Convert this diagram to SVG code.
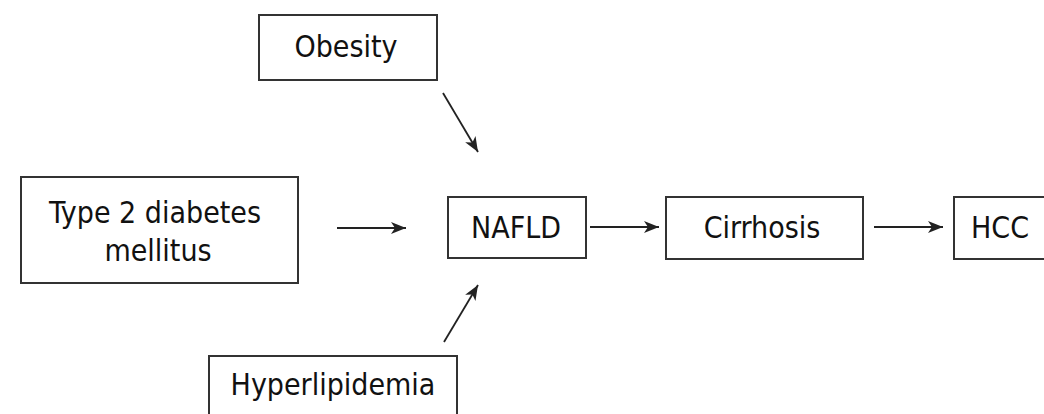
<svg xmlns="http://www.w3.org/2000/svg" width="1044" height="414" viewBox="0 0 1044 414">
<defs>
<style>
.box{fill:#fff;stroke:#333;stroke-width:2}
.lbl{font-family:"DejaVu Sans Condensed","DejaVu Sans",sans-serif;font-size:30px;fill:#111;text-anchor:middle}
.edge{stroke:#222;stroke-width:1.8;fill:none;marker-end:url(#ah)}
</style>
<marker id="ah" markerUnits="userSpaceOnUse" markerWidth="16" markerHeight="14" refX="15" refY="6" orient="auto" viewBox="0 0 16 12">
<path d="M0,0 L15,6 L0,12 L4,6 z" fill="#222"/>
</marker>
</defs>
<rect width="1044" height="414" fill="#fff"/>
<g id="obesity">
<rect class="box" x="259" y="15" width="178" height="65"/>
<text class="lbl" x="346" y="57">Obesity</text>
</g>
<g id="t2dm">
<rect class="box" x="21" y="177" width="277" height="106"/>
<text class="lbl" x="155" y="223">Type 2 diabetes</text>
<text class="lbl" x="158" y="261">mellitus</text>
</g>
<g id="hyperlipidemia">
<rect class="box" x="209" y="356" width="248" height="70"/>
<text class="lbl" x="333" y="395">Hyperlipidemia</text>
</g>
<g id="nafld">
<rect class="box" x="448" y="197" width="138" height="61"/>
<text class="lbl" x="516" y="238">NAFLD</text>
</g>
<g id="cirrhosis">
<rect class="box" x="666" y="197" width="197" height="62"/>
<text class="lbl" x="762" y="238">Cirrhosis</text>
</g>
<g id="hcc">
<rect class="box" x="954" y="197" width="100" height="62"/>
<text class="lbl" x="1000" y="238">HCC</text>
</g>
<g id="connectors">
<line class="edge" x1="337" y1="228" x2="406" y2="228"/>
<line class="edge" x1="443" y1="93" x2="478" y2="152"/>
<line class="edge" x1="444" y1="342" x2="478" y2="285"/>
<line class="edge" x1="590" y1="227" x2="659" y2="227"/>
<line class="edge" x1="874" y1="227" x2="943" y2="227"/>
</g>
</svg>
